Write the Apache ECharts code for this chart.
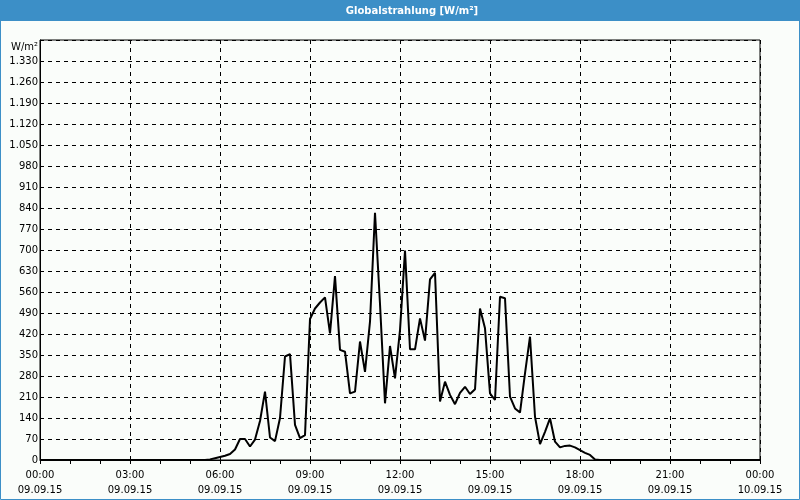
<!DOCTYPE html>
<html>
<head>
<meta charset="utf-8">
<script src="https://cdn.jsdelivr.net/npm/echarts@6/dist/echarts.min.js"></script>
<style>
html,body{margin:0;padding:0;background:#FAFDFA;}
#chart{width:800px;height:500px;}
</style>
</head>
<body>
<div id="chart"></div>
<script>
// ---- data ----
const chartTitle = 'Globalstrahlung [W/m²]';
const unitLabel = 'W/m²';
const dayStart = '09.09.15';
const dayNext = '10.09.15';
const sampleStepMinutes = 10; // one reading every 10 minutes, starting 00:00
const irradiance = [
  0,0,0,0,0,0,0,0,0,0,0,0,          // 00:00 - 01:50
  0,0,0,0,0,0,0,0,0,0,0,0,          // 02:00 - 03:50
  0,0,0,0,0,0,0,0,0,0,2,6,          // 04:00 - 05:50
  10,14,20,35,70,70,45,68,130,228,75,63,      // 06:00 - 07:50
  140,345,353,117,73,83,470,505,525,542,422,613, // 08:00 - 09:50
  367,361,222,228,395,294,461,824,520,189,380,272, // 10:00 - 11:50
  433,698,369,369,472,398,602,624,195,261,217,186, // 12:00 - 13:50
  224,244,220,236,505,439,222,200,544,539,211,172, // 14:00 - 15:50
  158,289,411,144,53,94,139,61,42,47,48,42,   // 16:00 - 17:50
  33,24,17,2,0,0,0,0,0,0,0,0,       // 18:00 - 19:50
  0,0,0,0,0,0,0,0,0,0,0,0,          // 20:00 - 21:50
  0,0,0,0,0,0,0,0,0,0,0,0,          // 22:00 - 23:50
  0                                  // 00:00
];
const yMax = 1400, yStep = 70;
const xMaxMinutes = 1440, xStepMinutes = 180;

const seriesData = irradiance.map((v, i) => [i * sampleStepMinutes, v]);

function fmtThousands(v) {
  if (v >= 1000) return Math.floor(v / 1000) + '.' + String(v % 1000).padStart(3, '0');
  return String(v);
}
function fmtTime(m) {
  const mm = m % 1440;
  const h = Math.floor(mm / 60), mi = mm % 60;
  const d = m >= 1440 ? dayNext : dayStart;
  return String(h).padStart(2, '0') + ':' + String(mi).padStart(2, '0') + '\n' + d;
}

const FONT = 'DejaVu Sans';
const chart = echarts.init(document.getElementById('chart'), null, {renderer: 'canvas'});
chart.setOption({
  animation: false,
  backgroundColor: '#FAFDFA',
  grid: {left: 40, right: 40, top: 40, bottom: 40, show: true, borderColor: '#000', borderWidth: 1, backgroundColor: 'transparent'},
  graphic: [
    {type: 'rect', shape: {x: 0, y: 0, width: 800, height: 21}, style: {fill: '#3C8FC7'}, silent: true},
    {type: 'rect', shape: {x: 0.5, y: 0.5, width: 799, height: 499}, style: {fill: 'none', stroke: '#3C8FC7', lineWidth: 1}, silent: true},
    {type: 'text', x: 412, y: 11, style: {text: chartTitle, fill: '#fff', font: 'bold 10px "' + FONT + '"', align: 'center', verticalAlign: 'middle'}, silent: true}
  ],
  xAxis: {
    type: 'value', min: 0, max: xMaxMinutes, interval: xStepMinutes,
    axisLine: {show: true, lineStyle: {color: '#000', width: 1}},
    axisTick: {show: true, length: 4, lineStyle: {color: '#000'}},
    minorTick: {show: true, splitNumber: 3, length: 4, lineStyle: {color: '#000'}},
    splitLine: {show: true, lineStyle: {color: '#000', type: [4, 4], width: 1}},
    axisLabel: {color: '#000', fontFamily: FONT, fontSize: 10, lineHeight: 15, margin: 8, formatter: fmtTime, showMinLabel: true, showMaxLabel: true}
  },
  yAxis: {
    type: 'value', min: 0, max: yMax, interval: yStep,
    name: unitLabel, nameLocation: 'end', nameGap: -7,
    nameTextStyle: {color: '#000', fontFamily: FONT, fontSize: 10, align: 'right', verticalAlign: 'middle', padding: [0, 2, 0, 0]},
    axisLine: {show: true, lineStyle: {color: '#000', width: 1}},
    axisTick: {show: false},
    splitLine: {show: true, lineStyle: {color: '#000', type: [4, 4], width: 1}},
    axisLabel: {color: '#000', fontFamily: FONT, fontSize: 10, margin: 2, showMaxLabel: false,
      formatter: v => v >= yMax ? '' : fmtThousands(v)}
  },
  series: [{
    type: 'line', data: seriesData, symbol: 'none',
    lineStyle: {color: '#000', width: 2}, itemStyle: {color: '#000'}
  }]
});
</script>
</body>
</html>
